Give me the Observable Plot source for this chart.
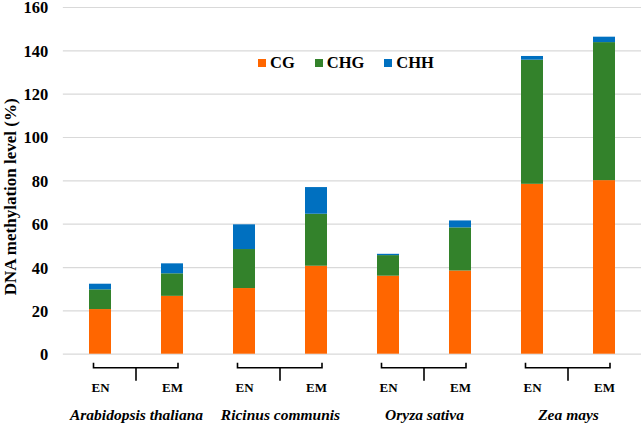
<!DOCTYPE html>
<html>
<head>
<meta charset="utf-8">
<script src="https://cdn.jsdelivr.net/npm/d3@7"></script>
<script src="https://cdn.jsdelivr.net/npm/@observablehq/plot@0.6"></script>
<style>
  html, body { margin: 0; padding: 0; background: #fff; }
  #wrap { position: relative; width: 643px; height: 424px; font-family: 'Liberation Serif', serif; }
  #wrap svg text { font-family: 'Liberation Serif', serif; }
  #legend { position: absolute; left: 258px; top: 53px; display: flex; align-items: center; font-weight: bold; font-size: 16.5px; color: #000; }
  #legend .item { display: flex; align-items: center; margin-right: 20px; }
  #legend .sw { width: 8px; height: 8px; margin-right: 4px; }
</style>
</head>
<body>
<div id="wrap"><div id="legend"></div></div>
<script>
const species = ["Arabidopsis thaliana", "Ricinus communis", "Oryza sativa", "Zea mays"];
const stages = ["EN", "EM"];
const contexts = ["CG", "CHG", "CHH"];
const colors = ["#FF6600", "#33822B", "#0070C0"];
// values per bar: order A-EN, A-EM, R-EN, R-EM, O-EN, O-EM, Z-EN, Z-EM
const cgValues  = [20.6, 26.7, 30.3, 40.6, 36.0, 38.4, 78.4, 80.1];
const chgValues = [9.1, 10.4, 18.0, 24.0, 9.5, 19.9, 57.3, 63.7];
const chhValues = [2.6, 4.6, 11.4, 12.3, 0.6, 3.2, 1.7, 2.5];
const yTicks = [0, 20, 40, 60, 80, 100, 120, 140, 160];
const yLabel = "DNA methylation level (%)";

// x slots: EN, mid, EM for each species, with a gap slot between species
const domain = [];
species.forEach((s, i) => {
  if (i > 0) domain.push(s + "|gap");
  domain.push(s + "|EN", s + "|mid", s + "|EM");
});

const series = [cgValues, chgValues, chhValues];
const bars = [];
species.forEach((s, i) => {
  stages.forEach((st, j) => {
    contexts.forEach((c, k) => {
      bars.push({key: s + "|" + st, species: s, stage: st, context: c, value: series[k][i * 2 + j]});
    });
  });
});
const labels = [];
species.forEach(s => stages.forEach(st => labels.push({key: s + "|" + st, stage: st})));

function brackets(index, scales, values, dimensions, context) {
  const x = scales.x, y = scales.y;
  const bw = x.bandwidth ? x.bandwidth() : 0;
  const g = d3.create("svg:g").attr("fill", "none").attr("stroke", "#000").attr("stroke-width", 1.6);
  const y0 = y(0);
  species.forEach(s => {
    const xl = x(s + "|EN") + bw / 2 - 6.5;
    const xr = x(s + "|EM") + bw / 2 + 6;
    const xm = x(s + "|mid") + bw / 2;
    g.append("path").attr("d", `M${xl},${y0 + 9}V${y0 + 14}H${xr}V${y0 + 9}`);
    g.append("path").attr("d", `M${xm},${y0 + 14}V${y0 + 27}`);
  });
  return g.node();
}

const plot = Plot.plot({
  width: 643,
  height: 424,
  marginLeft: 62.85,
  marginRight: 2,
  marginTop: 7,
  marginBottom: 70.3,
  style: {fontFamily: "'Liberation Serif', serif", fontWeight: "bold", color: "#000", background: "#fff", overflow: "visible"},
  x: {domain, paddingInner: 0.39, paddingOuter: 0.695, axis: null},
  y: {domain: [0, 160], axis: null},
  color: {domain: contexts, range: colors},
  marks: [
    Plot.ruleY(yTicks, {stroke: "#d9d9d9", strokeWidth: 1.2}),
    Plot.barY(bars, {x: "key", y: "value", fill: "context", order: contexts}),
    Plot.text(yTicks, {y: d => d, text: d => String(d), frameAnchor: "left", textAnchor: "end", dx: -15, dy: 0.7, fontSize: 16.5, fontWeight: "bold", fill: "#000"}),
    Plot.text([yLabel], {frameAnchor: "left", textAnchor: "middle", dx: -53, dy: 16, rotate: -90, fontSize: 17, fontWeight: "bold", fill: "#000"}),
    Plot.text(labels, {x: "key", y: () => 0, text: "stage", dy: 34, fontSize: 13, fontWeight: "bold", fill: "#000"}),
    Plot.text(species, {x: d => d + "|mid", y: () => 0, text: d => d, dy: 61, fontSize: 15.5, fontWeight: "bold", fontStyle: "italic", fill: "#000"}),
    brackets
  ]
});
document.getElementById("wrap").prepend(plot);

const legend = d3.select("#legend");
contexts.forEach((c, k) => {
  const it = legend.append("div").attr("class", "item");
  it.append("div").attr("class", "sw").style("background", colors[k]);
  it.append("span").text(c);
});
</script>
</body>
</html>
